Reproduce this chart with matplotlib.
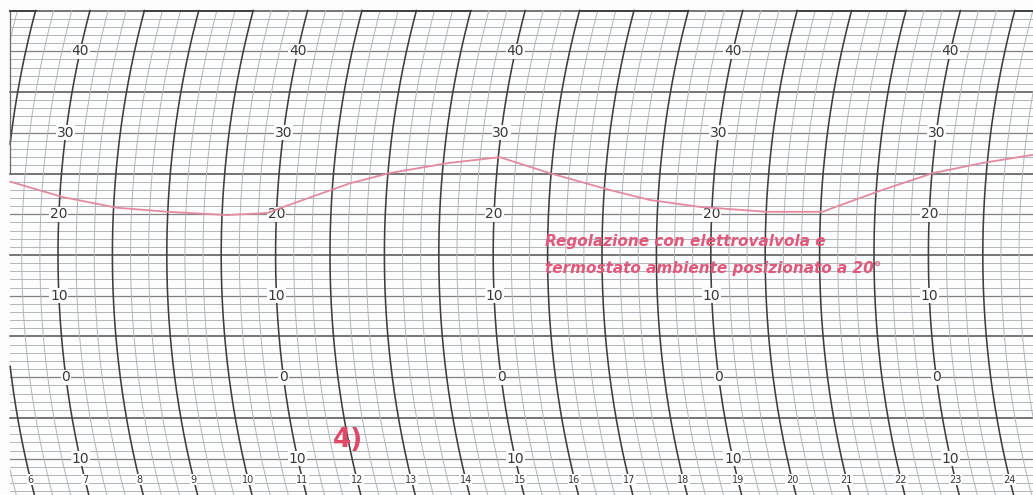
import numpy as np
import matplotlib
matplotlib.use("Agg")
import matplotlib.pyplot as plt

# ---------------- data ----------------
trace_hours = [6.07, 7.06, 8.06, 9.00, 10.09, 10.83, 11.12, 12.32, 13.03, 14.11,
               15.03, 15.97, 17.09, 17.85, 18.78, 20.01, 21.04, 21.23, 22.12,
               23.02, 23.92, 24.83]
trace_temps = [24.0, 22.1, 20.8, 20.3, 19.9, 20.15, 20.9, 23.8, 25.05, 26.3,
               27.0, 25.05, 23.0, 21.75, 20.9, 20.3, 20.3, 20.8, 23.0,
               25.05, 26.3, 27.3]
hour_labels = [str(h) for h in range(6, 25)]
hour_values = list(range(6, 25))
scale_hours = [7, 11, 15, 19, 23]
scale_temps = [40, 30, 20, 10, 0, -10]
scale_texts = ["40", "30", "20", "10", "0", "10"]
note_lines = ["Regolazione con elettrovalvola e",
              "termostato ambiente posizionato a 20°"]
panel_label = "4)"

# ---------------- geometry of the recorder paper ----------------
PX_PER_H = 54.4
PX_PER_C = 8.15
R_PX = 950.0
T_CENTER = 15.0
T_TOP = 45.0
XL, XR = 5.934, 24.923
YB, YT = -14.45, 46.29
H_LEFT = 6.118  # paper left edge


def arc_off(T):
    dy = (np.asarray(T, float) - T_CENTER) * PX_PER_C
    return (R_PX - np.sqrt(R_PX ** 2 - dy ** 2)) / PX_PER_H


fig = plt.figure(figsize=(10.33, 4.95), dpi=100)
ax = fig.add_axes([0, 0, 1, 1])
ax.set_xlim(XL, XR)
ax.set_ylim(YB, YT)
ax.axis("off")
fig.patch.set_facecolor("#fdfdfd")

minor_c = "#b0b5bb"
dark_c = "#3e3e3e"

# horizontal lines
for T in range(-14, 46):
    if T % 10 == 5:
        c, lw = "#505050", 1.1
    elif T % 10 == 0:
        c, lw = "#808080", 0.9
    else:
        c, lw = minor_c, 0.7
    ax.plot([H_LEFT, XR], [T, T], color=c, lw=lw, zorder=1)

# curved time lines
Ts = np.linspace(YB - 1, T_TOP, 300)
offs = arc_off(Ts)
for k in range(3 * 4, 3 * 26):
    t = k / 3.0
    xs = t + offs
    xs = np.where(xs >= H_LEFT, xs, np.nan)
    if k % 3 == 0:
        ax.plot(xs, Ts, color=dark_c, lw=1.15, zorder=2)
    else:
        ax.plot(xs, Ts, color=minor_c, lw=0.7, zorder=1.5)

# top border segments
for start in range(4, 26, 4):
    a = max(start + arc_off(T_TOP), H_LEFT)
    b = start + 2 + arc_off(T_TOP)
    if b > H_LEFT:
        ax.plot([a, min(b, XR)], [T_TOP, T_TOP], color=dark_c, lw=1.3, zorder=3)
ax.plot([H_LEFT, H_LEFT], [25, T_TOP], color="#6a6a6a", lw=0.9, zorder=2)

# temperature scale labels
for h in scale_hours:
    for T, s in zip(scale_temps, scale_texts):
        ax.text(h + arc_off(T), T, s, fontsize=10, color="#383838",
                ha="center", va="center", zorder=5,
                bbox=dict(boxstyle="square,pad=0.05", fc="#fdfdfd", ec="none"))

# hour labels
T_HL = -12.55
for h, s in zip(hour_values, hour_labels):
    ax.text(h + arc_off(T_HL), T_HL, s, fontsize=7, color="#383838",
            ha="center", va="center", zorder=5,
            bbox=dict(boxstyle="square,pad=0.05", fc="#fdfdfd", ec="none"))

# recorded trace
th = np.array(trace_hours)
tt = np.array(trace_temps)
ax.plot(th + arc_off(tt), tt, color="#e48aa0", lw=1.3, zorder=6,
        solid_capstyle="round")

# annotation
ax.text(15.95, 16.7, note_lines[0], fontsize=11, color="#e2587a",
        style="italic", weight="bold", ha="left", va="center", zorder=7)
ax.text(15.95, 13.4, note_lines[1], fontsize=11, color="#e2587a",
        style="italic", weight="bold", ha="left", va="center", zorder=7)
ax.text(12.33, -7.7, panel_label, fontsize=19, color="#e04a68",
        weight="bold", ha="center", va="center", zorder=7)

fig.savefig("out.png", dpi=100, facecolor=fig.get_facecolor())
